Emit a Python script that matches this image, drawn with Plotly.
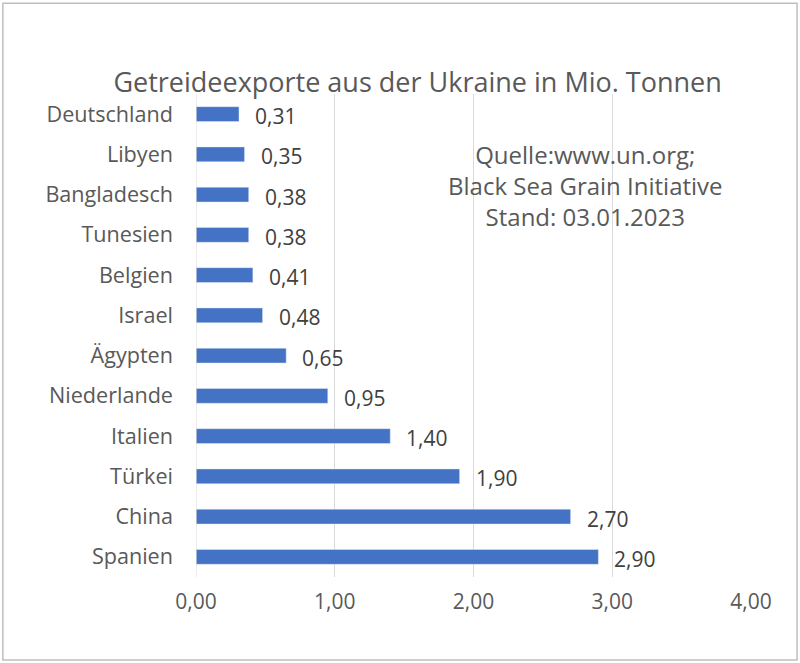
import plotly.graph_objects as go

# Getreideexporte aus der Ukraine (Mio. Tonnen), Stand 03.01.2023
laender = ['Spanien', 'China', 'Türkei', 'Italien', 'Niederlande', 'Ägypten',
           'Israel', 'Belgien', 'Tunesien', 'Bangladesch', 'Libyen', 'Deutschland']
mengen = [2.90, 2.70, 1.90, 1.40, 0.95, 0.65, 0.48, 0.41, 0.38, 0.38, 0.35, 0.31]
x_ticks = [0, 1, 2, 3, 4]
x_tick_labels = ['0,00', '1,00', '2,00', '3,00', '4,00']

labels = [f'{v:.2f}'.replace('.', ',') for v in mengen]
font = 'Open Sans, Liberation Sans, sans-serif'

trace = go.Bar(x=mengen, y=laender, orientation='h', marker_color='#4472C4')

# data labels, set a bit off the bar end like in Excel
value_labels = [dict(x=v, y=c, text=t, xref='x', yref='y', xanchor='left', yanchor='middle',
                     xshift=14, yshift=-2, showarrow=False,
                     font=dict(size=21, color='#404040', family=font))
                for v, c, t in zip(mengen, laender, labels)]

source_note = dict(text='Quelle:www.un.org;<br>Black Sea Grain Initiative<br>Stand: 03.01.2023',
                   xref='x', yref='paper', x=2.81, y=0.81, xanchor='center', yanchor='middle',
                   showarrow=False, align='center',
                   font=dict(size=24, color='#595959', family=font))

layout = go.Layout(
    width=800, height=663,
    paper_bgcolor='white', plot_bgcolor='white',
    margin=dict(l=196, r=49, t=94, b=86),
    bargap=0.63, showlegend=False,
    font=dict(family=font, color='#595959'),
    title=dict(text='Getreideexporte aus der Ukraine in Mio. Tonnen',
               x=0.522, xanchor='center', y=0.876, yanchor='middle',
               font=dict(size=27, color='#595959', family=font)),
    xaxis=dict(range=[0, 4], tickvals=x_ticks, ticktext=x_tick_labels,
               showgrid=True, gridcolor='#D9D9D9', gridwidth=1, zeroline=False,
               tickfont=dict(size=21, color='#595959'), ticks='', ticklabelstandoff=10),
    yaxis=dict(categoryorder='array', categoryarray=laender, showgrid=False,
               tickfont=dict(size=21.6, color='#595959'), ticks='',
               ticklabelstandoff=22, showline=False),
    annotations=value_labels + [source_note],
    shapes=[dict(type='line', xref='x', yref='paper', x0=0, x1=0, y0=0, y1=1,
                 line=dict(color='#D9D9D9', width=1)),
            dict(type='rect', xref='paper', yref='paper', x0=-0.348, x1=1.083,
                 y0=-0.172, y1=1.188, line=dict(color='#BFBFBF', width=1.5))],
)

fig = go.Figure(data=[trace], layout=layout)
fig.write_html('out.html', config={'displayModeBar': False},
               post_script="document.body.style.margin='0';")
